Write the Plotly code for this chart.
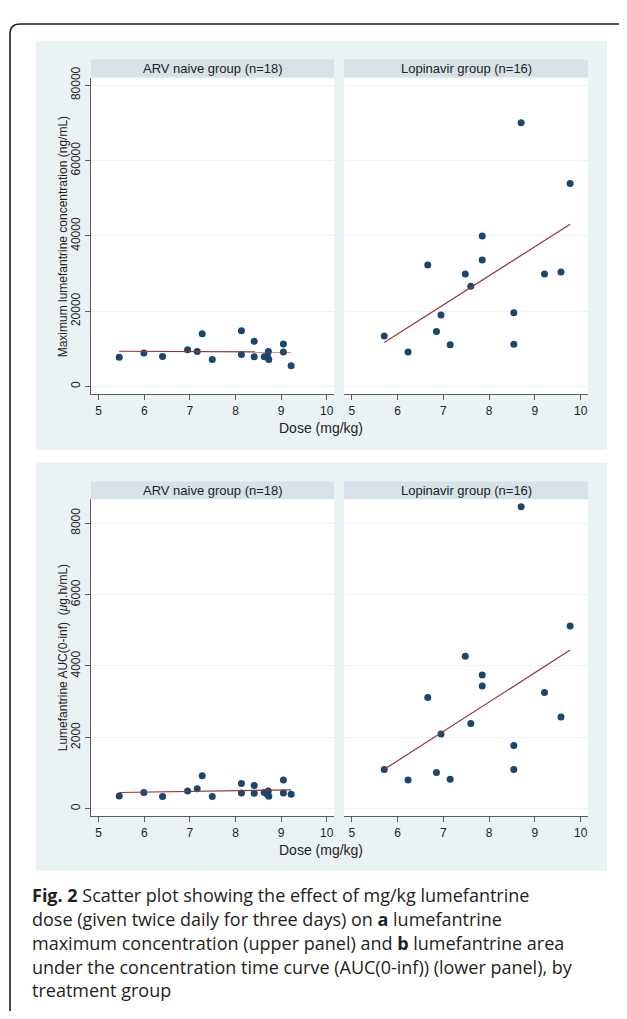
import numpy as np
import plotly.graph_objects as go

# ---------------- data ----------------
arv_dose = [5.45, 5.99, 6.40, 6.95, 7.16, 7.27, 7.49, 8.13, 8.13, 8.41, 8.41, 8.63, 8.72, 8.70, 8.73, 9.05, 9.05, 9.22]
arv_cmax = [7800, 8900, 8000, 9800, 9300, 14000, 7200, 14800, 8500, 12000, 7900, 7900, 9300, 8000, 7200, 11300, 9200, 5500]
arv_auc = [360, 452, 341, 498, 563, 922, 341, 710, 443, 655, 434, 452, 498, 400, 350, 803, 443, 406]

lpv_dose = [5.71, 6.23, 6.66, 6.85, 6.95, 7.15, 7.48, 7.60, 7.85, 7.85, 8.54, 8.54, 8.70, 9.21, 9.57, 9.77]
lpv_cmax = [13400, 9200, 32300, 14600, 19000, 11100, 29900, 26600, 40000, 33600, 19600, 11200, 70000, 29900, 30400, 53900]
lpv_auc = [1098, 803, 3118, 1015, 2094, 830, 4271, 2389, 3745, 3441, 1771, 1098, 8459, 3256, 2574, 5120]

panel_titles = ["ARV naive group (n=18)", "Lopinavir group (n=16)"]
x_ticks = [5, 6, 7, 8, 9, 10]
cmax_ticks = [0, 20000, 40000, 60000, 80000]
auc_ticks = [0, 2000, 4000, 6000, 8000]
x_title = "Dose (mg/kg)"
y_title_top = "Maximum lumefantrine concentration (ng/mL)"
y_title_bottom = "Lumefantrine AUC(0-inf)  (<i>μ</i>g.h/mL)"
caption_lines = [
    "<b>Fig. 2</b> Scatter plot showing the effect of mg/kg lumefantrine",
    "dose (given twice daily for three days) on <b>a</b> lumefantrine",
    "maximum concentration (upper panel) and <b>b</b> lumefantrine area",
    "under the concentration time curve (AUC(0-inf)) (lower panel), by",
    "treatment group",
]

# ---------------- styling ----------------
VW, VH = 627, 1019          # browser window
OFF = 8                      # default page (body) margin
FW, FH = VW - 2 * OFF, VH - 2 * OFF
REGION = "#eaf2f3"
STRIP = "#d6e2e8"
MARK = "#1a476f"
FIT = "#90353b"
AXC = "#5b5b5b"
FONT = "Liberation Sans"

def X(px):
    """window pixel -> paper x"""
    return (px - OFF) / FW

def Y(py):
    """window pixel -> paper y"""
    return 1 - (py - OFF) / FH

fig = go.Figure()

panels = [
    ("x", "y", arv_dose, arv_cmax),
    ("x2", "y2", lpv_dose, lpv_cmax),
    ("x3", "y3", arv_dose, arv_auc),
    ("x4", "y4", lpv_dose, lpv_auc),
]

for xa, ya, xs, ys in panels:
    fig.add_trace(go.Scatter(x=xs, y=ys, mode="markers", xaxis=xa, yaxis=ya,
                             marker=dict(color=MARK, size=7), showlegend=False))
    coef = np.polyfit(xs, ys, 1)
    xl = np.array([min(xs), max(xs)])
    fig.add_trace(go.Scatter(x=xl, y=np.polyval(coef, xl), mode="lines", xaxis=xa, yaxis=ya,
                             line=dict(color=FIT, width=1.2), showlegend=False))

PX_L = (91, 334)
PX_R = (344, 588)
PY_T = (67, 386.7)
PY_B = (493, 814)

left_dom = [X(PX_L[0]), X(PX_L[1])]
right_dom = [X(PX_R[0]), X(PX_R[1])]
top_dom = [Y(PY_T[1]), Y(PY_T[0])]
bot_dom = [Y(PY_B[1]), Y(PY_B[0])]

xr = [4.831, 10.16]
top_range = [-2020, 81836]
bot_range = [-213, 8673]

def xaxis(domain, anchor):
    return dict(domain=domain, anchor=anchor, range=xr, tickvals=x_ticks,
                ticks="outside", ticklen=5, tickcolor=AXC, tickwidth=1,
                showline=True, linecolor=AXC, linewidth=1, showgrid=False,
                zeroline=False, tickfont=dict(family=FONT, size=12, color="#222"))

def yaxis(domain, anchor, rng, tv, show):
    d = dict(domain=domain, anchor=anchor, range=rng, tickvals=tv,
             ticktext=[str(v) for v in tv],
             showgrid=True, gridcolor=REGION, gridwidth=1, zeroline=False)
    if show:
        d.update(ticks="outside", ticklen=5, tickcolor=AXC, tickwidth=1,
                 showline=True, linecolor=AXC, linewidth=1, tickangle=-90,
                 tickfont=dict(family=FONT, size=12, color="#222"))
    else:
        d.update(showticklabels=False, ticks="", showline=False)
    return d

fig.update_layout(
    xaxis=xaxis(left_dom, "y"),
    xaxis2=xaxis(right_dom, "y2"),
    xaxis3=xaxis(left_dom, "y3"),
    xaxis4=xaxis(right_dom, "y4"),
    yaxis=yaxis(top_dom, "x", top_range, cmax_ticks, True),
    yaxis2=yaxis(top_dom, "x2", top_range, cmax_ticks, False),
    yaxis3=yaxis(bot_dom, "x3", bot_range, auc_ticks, True),
    yaxis4=yaxis(bot_dom, "x4", bot_range, auc_ticks, False),
)

shapes = []
# graph region backgrounds
for y0, y1 in [(29, 443), (456, 869)]:
    shapes.append(dict(type="rect", xref="paper", yref="paper", x0=X(36), x1=X(607),
                       y0=Y(y1), y1=Y(y0), fillcolor=REGION, line=dict(width=0), layer="below"))
# white plot regions
for py in (PY_T, PY_B):
    for pxr in (PX_L, PX_R):
        shapes.append(dict(type="rect", xref="paper", yref="paper", x0=X(pxr[0]), x1=X(pxr[1]),
                           y0=Y(py[1]), y1=Y(py[0]), fillcolor="white", line=dict(width=0),
                           layer="below"))
# strips
for sy0, sy1 in [(48, 66), (475, 493)]:
    for pxr in (PX_L, PX_R):
        shapes.append(dict(type="rect", xref="paper", yref="paper", x0=X(pxr[0]), x1=X(pxr[1]),
                           y0=Y(sy1), y1=Y(sy0), fillcolor=STRIP, line=dict(width=0), layer="below"))
# figure border (rounded top corners)
r = 10
path = (f"M {X(10)},{Y(1019)} L {X(10)},{Y(12 + r)} Q {X(10)},{Y(12)} {X(10 + r)},{Y(12)} "
        f"L {X(627 - r)},{Y(12)} Q {X(627)},{Y(12)} {X(627)},{Y(12 + r)}")
shapes.append(dict(type="path", xref="paper", yref="paper", path=path,
                   line=dict(color="#231f20", width=1.6)))
fig.update_layout(shapes=shapes)

ann = []
for sy in (57, 484):
    for cx, t in [((PX_L[0] + PX_L[1]) / 2, panel_titles[0]), ((PX_R[0] + PX_R[1]) / 2, panel_titles[1])]:
        ann.append(dict(x=X(cx), y=Y(sy), xref="paper", yref="paper", text=t, showarrow=False,
                        xanchor="center", yanchor="middle",
                        font=dict(family=FONT, size=13, color="#222")))
for ty in (421, 848):
    ann.append(dict(x=X(321), y=Y(ty), xref="paper", yref="paper", text=x_title, showarrow=False,
                    xanchor="center", yanchor="middle", font=dict(family=FONT, size=14, color="#222")))
for ty, t in [(228, y_title_top), (654, y_title_bottom)]:
    ann.append(dict(x=X(63), y=Y(ty), xref="paper", yref="paper", text=t, showarrow=False,
                    textangle=-90, xanchor="center", yanchor="middle",
                    font=dict(family=FONT, size=12, color="#222")))
for i, line in enumerate(caption_lines):
    ann.append(dict(x=X(30), y=Y(894 + 24 * i), xref="paper", yref="paper", text=line, showarrow=False,
                    xanchor="left", yanchor="middle",
                    font=dict(family="Open Sans", size=18, color="#231f20")))
fig.update_layout(annotations=ann)

fig.update_layout(width=FW, height=FH, autosize=False, margin=dict(l=0, r=0, t=0, b=0),
                  paper_bgcolor="white", plot_bgcolor="white", showlegend=False)

fig.write_html("out.html")
